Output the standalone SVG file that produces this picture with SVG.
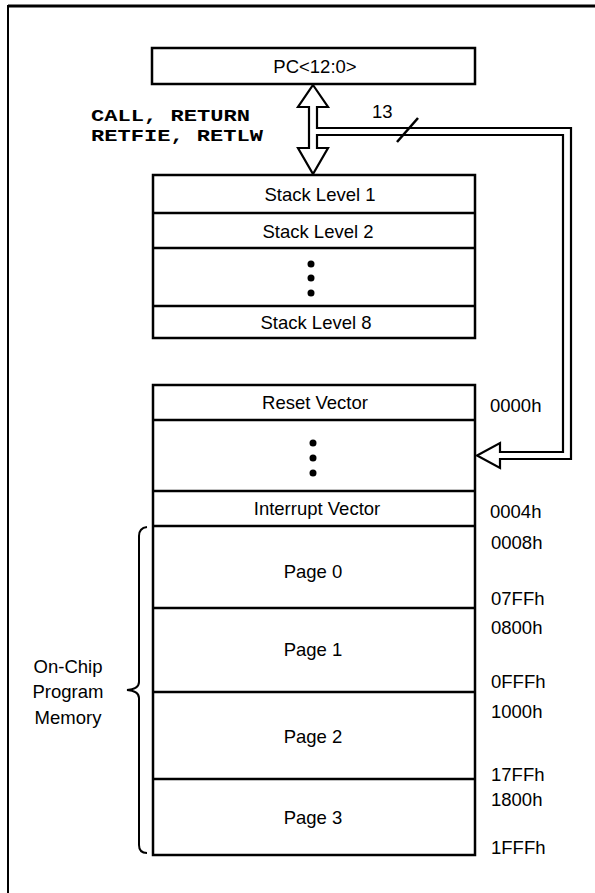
<svg xmlns="http://www.w3.org/2000/svg" width="595" height="893" viewBox="0 0 595 893">
<style>
.box{fill:#fff;stroke:#000;stroke-width:2.5}
.sep{stroke:#000;stroke-width:2.5}
.t{font-family:"Liberation Sans",Arial,sans-serif;font-size:18.5px;fill:#000;text-anchor:middle}
.a{font-family:"Liberation Sans",Arial,sans-serif;font-size:18.5px;fill:#000}
.m{font-family:"Liberation Mono","Courier New",monospace;font-size:17px;font-weight:bold;fill:#000}
.conn{fill:#fff;stroke:#000;stroke-width:2.2;stroke-linejoin:miter}
</style>
<rect width="595" height="893" fill="#fff"/>
<g id="frame">
<line x1="8" y1="6" x2="595" y2="6" stroke="#000" stroke-width="3"/>
<line x1="8" y1="5" x2="8" y2="893" stroke="#000" stroke-width="2"/>
</g>
<g id="pc">
<rect class="box" x="152" y="48" width="323" height="36"/>
<text class="t" x="315" y="73">PC&lt;12:0&gt;</text>
</g>
<g id="labels">
<text class="m" x="91" y="121" textLength="159" lengthAdjust="spacingAndGlyphs">CALL, RETURN</text>
<text class="m" x="91" y="141" textLength="172" lengthAdjust="spacingAndGlyphs">RETFIE, RETLW</text>
<text class="a" x="372" y="118">13</text>
</g>
<g id="stack">
<rect class="box" x="153" y="175" width="322" height="163"/>
<line class="sep" x1="153" y1="213" x2="475" y2="213"/>
<line class="sep" x1="153" y1="248" x2="475" y2="248"/>
<line class="sep" x1="153" y1="306" x2="475" y2="306"/>
<text class="t" x="320" y="201">Stack Level 1</text>
<text class="t" x="318" y="238">Stack Level 2</text>
<circle cx="311" cy="264" r="3.5"/>
<circle cx="311" cy="278" r="3.5"/>
<circle cx="311" cy="293" r="3.5"/>
<text class="t" x="316" y="329">Stack Level 8</text>
</g>
<g id="memory">
<rect class="box" x="153" y="385" width="322" height="470"/>
<line class="sep" x1="153" y1="420" x2="475" y2="420"/>
<line class="sep" x1="153" y1="491" x2="475" y2="491"/>
<line class="sep" x1="153" y1="526" x2="475" y2="526"/>
<line class="sep" x1="153" y1="608" x2="475" y2="608"/>
<line class="sep" x1="153" y1="692" x2="475" y2="692"/>
<line class="sep" x1="153" y1="779" x2="475" y2="779"/>
<text class="t" x="315" y="409">Reset Vector</text>
<circle cx="313" cy="443" r="3.5"/>
<circle cx="313" cy="458" r="3.5"/>
<circle cx="313" cy="473" r="3.5"/>
<text class="t" x="317" y="515">Interrupt Vector</text>
<text class="t" x="313" y="578">Page 0</text>
<text class="t" x="313" y="656">Page 1</text>
<text class="t" x="313" y="743">Page 2</text>
<text class="t" x="313" y="824">Page 3</text>
</g>
<g id="addresses">
<text class="a" x="490" y="412">0000h</text>
<text class="a" x="490" y="518">0004h</text>
<text class="a" x="491" y="549">0008h</text>
<text class="a" x="491" y="605">07FFh</text>
<text class="a" x="491" y="634">0800h</text>
<text class="a" x="491" y="688">0FFFh</text>
<text class="a" x="491" y="718">1000h</text>
<text class="a" x="491" y="781">17FFh</text>
<text class="a" x="491" y="806">1800h</text>
<text class="a" x="491" y="854">1FFFh</text>
</g>
<g id="brace">
<path d="M147,527 Q139,528 139,536 V682 Q139,689 127,690 Q139,691 139,698 V845 Q139,853 147,853" fill="none" stroke="#000" stroke-width="2"/>
<text class="t" x="68" y="673">On-Chip</text>
<text class="t" x="68" y="698">Program</text>
<text class="t" x="68" y="724">Memory</text>
</g>
<g id="connectors">
<path class="conn" d="M313,85 L328,107 L317,107 V128 H571 V459 H500 V468 L477,455.5 L500,443 V452 H563 V135 H317 V148 L328,148 L313,174 L298,148 L309,148 V107 L298,107 Z"/>
<line x1="397" y1="142" x2="418" y2="118" stroke="#000" stroke-width="2.5"/>
</g>
</svg>
